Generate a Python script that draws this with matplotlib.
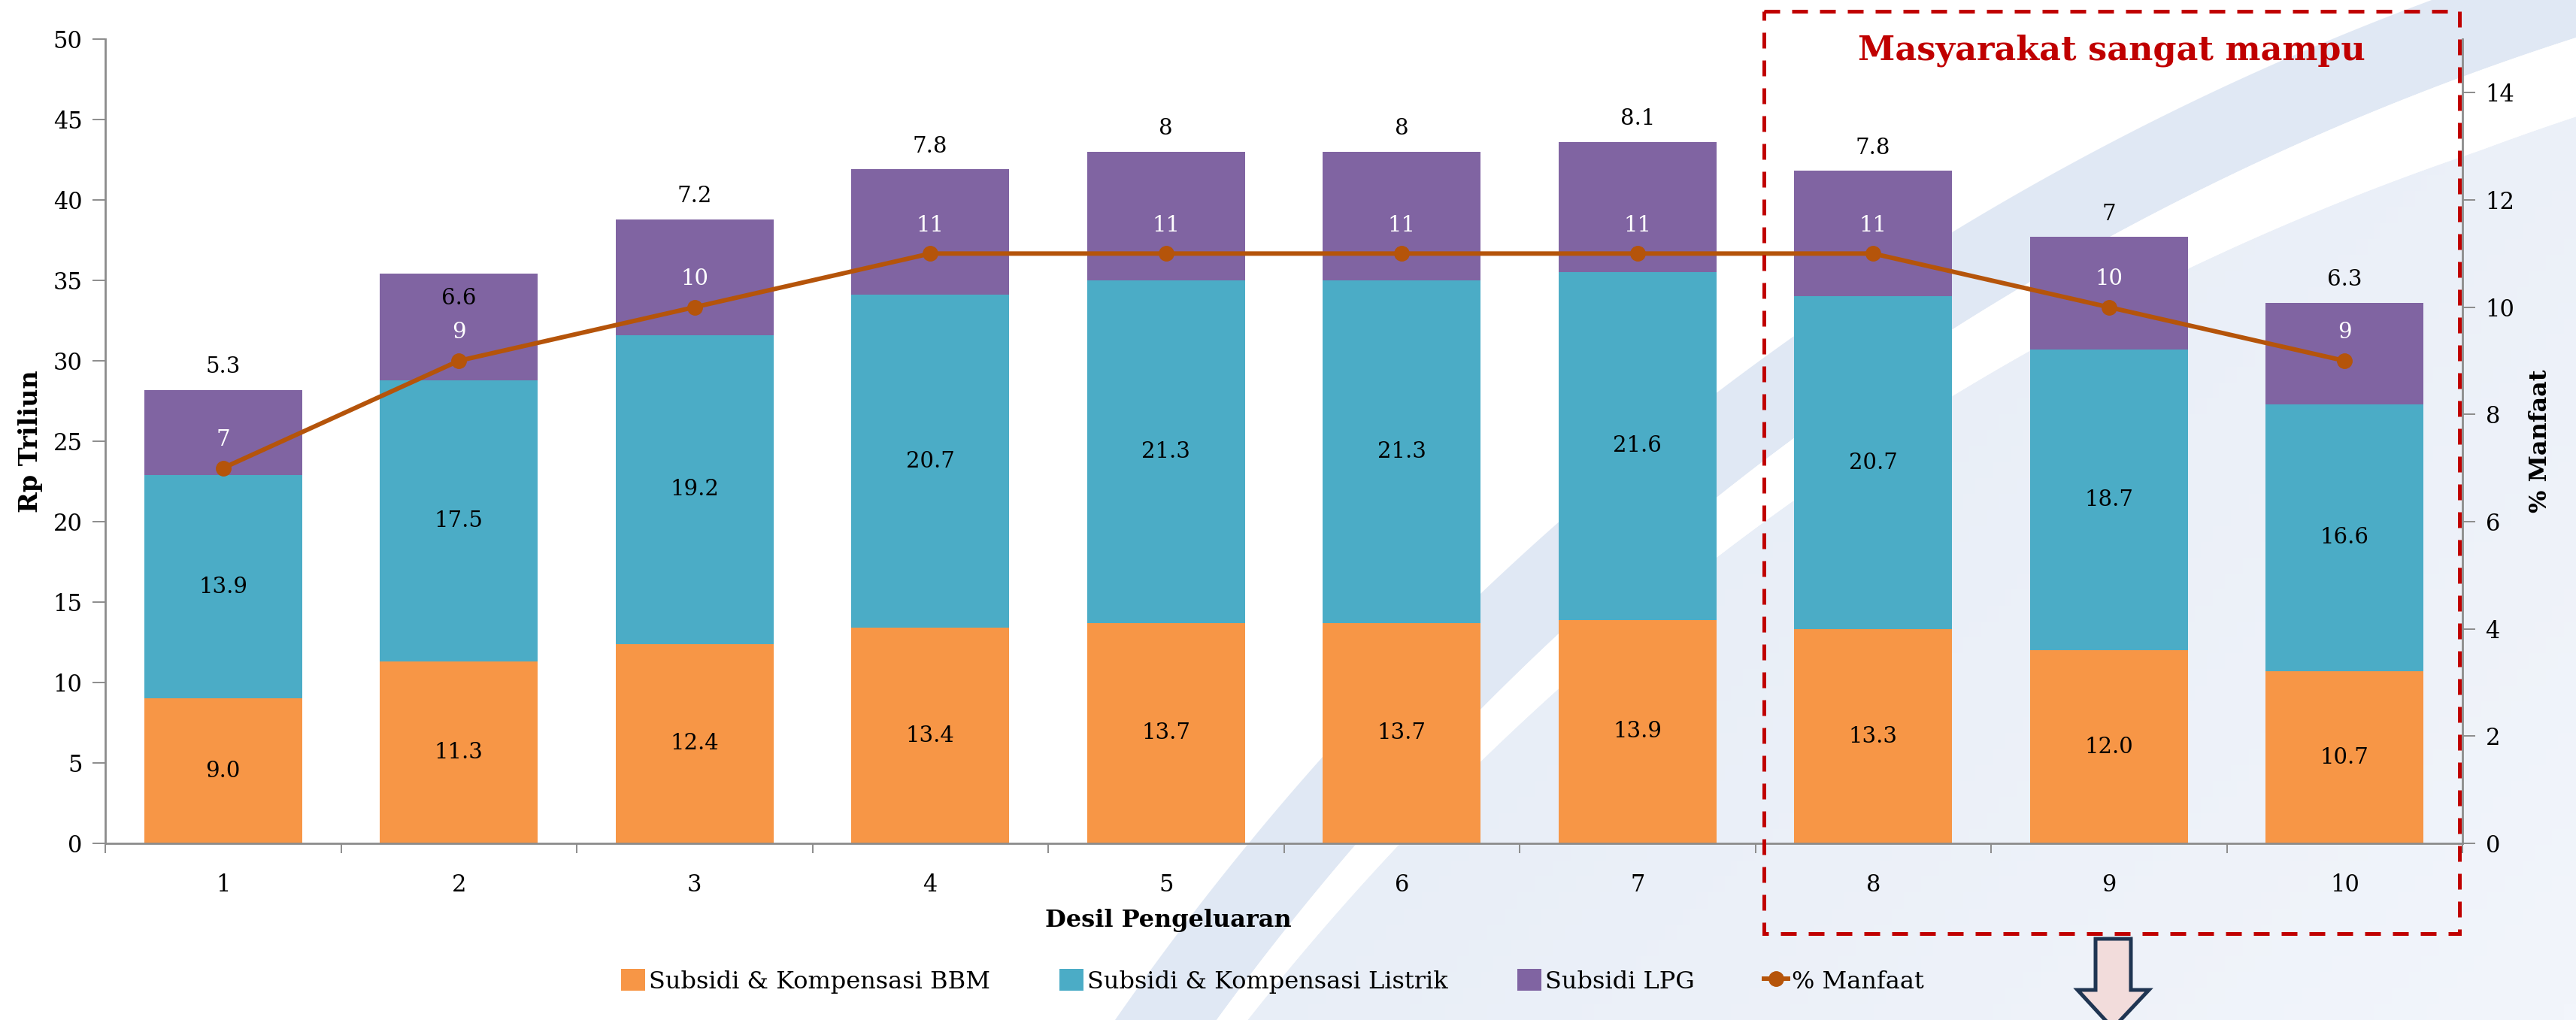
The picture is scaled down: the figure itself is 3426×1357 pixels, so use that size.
import numpy as np
import matplotlib
matplotlib.use("Agg")
import matplotlib.pyplot as plt
from matplotlib.patches import Polygon, Rectangle

# data
deciles = ["1", "2", "3", "4", "5", "6", "7", "8", "9", "10"]
bbm = [9.0, 11.3, 12.4, 13.4, 13.7, 13.7, 13.9, 13.3, 12.0, 10.7]
listrik = [13.9, 17.5, 19.2, 20.7, 21.3, 21.3, 21.6, 20.7, 18.7, 16.6]
lpg = [5.3, 6.6, 7.2, 7.8, 8, 8, 8.1, 7.8, 7, 6.3]
manfaat = [7, 9, 10, 11, 11, 11, 11, 11, 10, 9]

series_names = ["Subsidi & Kompensasi BBM", "Subsidi & Kompensasi Listrik",
                "Subsidi LPG", "% Manfaat"]

C_BBM = "#f79646"
C_LISTRIK = "#4bacc6"
C_LPG = "#8064a2"
C_LINE = "#b5540a"
C_AXIS = "#8c8c8c"
C_RED = "#c00000"

plt.rcParams["font.family"] = ["DejaVu Serif"]

W, H = 3426, 1357
fig = plt.figure(figsize=(W / 100, H / 100), dpi=100)
fig.patch.set_facecolor("white")

# ---- decorative background swoosh (pixel coordinates) ----
bg = fig.add_axes([0, 0, 1, 1], zorder=0)
bg.set_xlim(0, W)
bg.set_ylim(H, 0)
bg.axis("off")

cx, cy = 4521, 3469
phi = np.linspace(-2.85, -1.45, 400)


def arc(r):
    r = np.broadcast_to(r, phi.shape)
    return np.column_stack([cx + r * np.cos(phi), cy + r * np.sin(phi)])


outer = arc(3700)
band_in = arc(3590)
# white stripe gets narrower towards the bottom-left
r_stripe = np.interp(phi, [-2.535, -1.929], [3560, 3490])
stripe_in = arc(r_stripe)

bg.add_patch(Polygon(np.vstack([outer, band_in[::-1]]), closed=True,
                     facecolor="#e0e8f4", edgecolor="none"))
bg.add_patch(Polygon(np.vstack([band_in, stripe_in[::-1]]), closed=True,
                     facecolor="white", edgecolor="none"))
inner = Polygon(np.vstack([stripe_in, [[W + 500, H + 500]]]), closed=True,
                facecolor="none", edgecolor="none")
bg.add_patch(inner)
gx = np.linspace(0, 1, 256)
grad = np.add.outer(np.linspace(0, 0.4, 64), gx * 0.6)
img = bg.imshow(grad, extent=[1400, W, H, 0], aspect="auto",
                cmap=matplotlib.colors.LinearSegmentedColormap.from_list(
                    "bgblue", ["#e0e8f4", "#f2f5fb"]), zorder=0)
img.set_clip_path(inner)

# ---- main chart ----
left_px, right_px, top_px, bot_px = 140, 3275, 52, 1122
ax = fig.add_axes([left_px / W, 1 - bot_px / H, (right_px - left_px) / W,
                   (bot_px - top_px) / H], zorder=1)
ax.patch.set_alpha(0)

x = np.arange(len(deciles))
bw = 0.67
b1 = ax.bar(x, bbm, bw, color=C_BBM, label=series_names[0])
b2 = ax.bar(x, listrik, bw, bottom=bbm, color=C_LISTRIK, label=series_names[1])
base3 = np.array(bbm) + np.array(listrik)
b3 = ax.bar(x, lpg, bw, bottom=base3, color=C_LPG, label=series_names[2])

fs = 21
for i in range(len(x)):
    ax.text(x[i], bbm[i] / 2, f"{bbm[i]:.1f}", ha="center", va="center", fontsize=fs)
    ax.text(x[i], bbm[i] + listrik[i] / 2, f"{listrik[i]:.1f}", ha="center",
            va="center", fontsize=fs)
    top = base3[i] + lpg[i]
    if i == 1:
        # this one sits inside the purple segment in the original
        ax.text(x[i], top - 1.5, f"{lpg[i]:g}", ha="center", va="center", fontsize=fs)
    else:
        ax.annotate(f"{lpg[i]:g}", (x[i], top), xytext=(0, 22), textcoords="offset points",
                    ha="center", va="center", fontsize=fs)

ax.set_xlim(-0.5, len(x) - 0.5)
ax.set_ylim(0, 50)
ax.set_yticks(np.arange(0, 51, 5))
ax.set_xticks(x)
ax.set_xticklabels(deciles)
ax.set_xticks(np.arange(-0.5, len(x), 1), minor=True)
ax.tick_params(axis="x", which="major", length=0, pad=29, labelsize=22)
ax.tick_params(axis="x", which="minor", length=9, width=1.4, color=C_AXIS, direction="out")
ax.tick_params(axis="y", length=12, width=1.4, color=C_AXIS, labelsize=22, pad=10)
for s in ["top", "right"]:
    ax.spines[s].set_visible(False)
for s in ["left", "bottom"]:
    ax.spines[s].set_color(C_AXIS)
    ax.spines[s].set_linewidth(2)

ax.set_ylabel("Rp Triliun", fontsize=24, fontweight="bold")
ax.yaxis.set_label_coords(-0.0265, 0.5)
ax.set_xlabel("Desil Pengeluaran", fontsize=23, fontweight="bold")
ax.xaxis.set_label_coords(0.451, -0.081)

ax2 = ax.twinx()
ln, = ax2.plot(x, manfaat, color=C_LINE, lw=4.3, marker="o", markersize=14,
               label=series_names[3])
for i in range(len(x)):
    ax2.annotate(f"{manfaat[i]}", (x[i], manfaat[i]), xytext=(0, 27),
                 textcoords="offset points", ha="center", va="center",
                 fontsize=fs, color="white")
ax2.set_ylim(0, 15)
ax2.set_yticks(np.arange(0, 15, 2))
ax2.tick_params(axis="y", length=12, width=1.4, color=C_AXIS, labelsize=22, pad=10)
for s in ["top", "left", "bottom"]:
    ax2.spines[s].set_visible(False)
ax2.spines["right"].set_color(C_AXIS)
ax2.spines["right"].set_linewidth(2)
ax2.set_ylabel("% Manfaat", fontsize=23, fontweight="bold", rotation=90)
ax2.yaxis.set_label_coords(1.028, 0.5)

fig.legend([b1, b2, b3, ln], series_names, loc="center", bbox_to_anchor=(0.494, 0.038),
           ncol=4, frameon=False, fontsize=23, handlelength=1.0, handleheight=1.0,
           columnspacing=2.9, handletextpad=0.15)

# ---- highlight box, title and arrow (pixel coordinates) ----
ov = fig.add_axes([0, 0, 1, 1], zorder=3)
ov.set_xlim(0, W)
ov.set_ylim(H, 0)
ov.axis("off")
ov.patch.set_alpha(0)
ov.add_patch(Rectangle((2346, 15), 3271 - 2346, 1242 - 15, fill=False,
                       edgecolor=C_RED, lw=3.6, linestyle=(0, (4.2, 3.2))))
ov.text(2808, 67, "Masyarakat sangat mampu", color=C_RED, fontsize=32,
        fontweight="bold", ha="center", va="center")
arrow = [(2787, 1249), (2834, 1249), (2834, 1317), (2858, 1317), (2810, 1368),
         (2763, 1317), (2787, 1317)]
ov.add_patch(Polygon(arrow, closed=True, facecolor="#f2dcdb", edgecolor="#1f3552",
                     lw=3.6, joinstyle="miter"))

fig.savefig("out.png", dpi=100)
